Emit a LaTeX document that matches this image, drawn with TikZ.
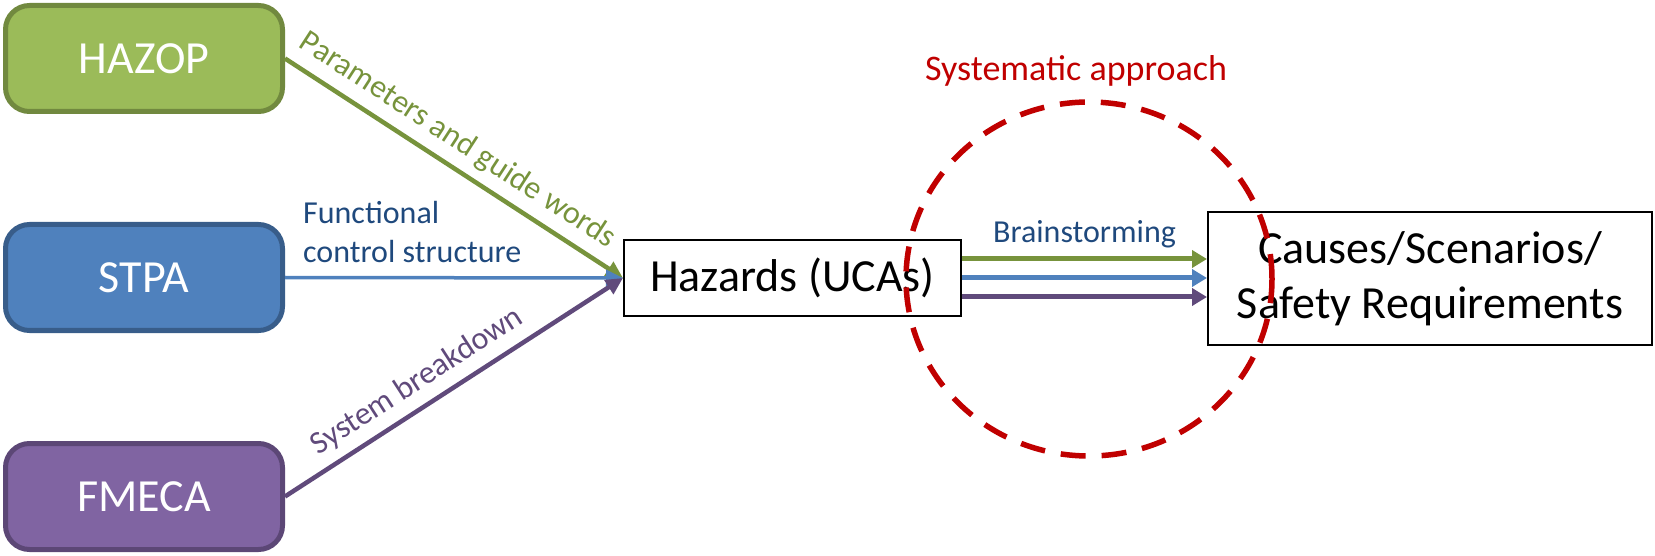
\documentclass[tikz,border=0pt]{standalone}
\usepackage{fontspec}
\setmainfont{Carlito}
\usetikzlibrary{arrows.meta,shapes.geometric,calc}

\definecolor{hazopfill}{HTML}{9BBB59}
\definecolor{hazopline}{HTML}{71893F}
\definecolor{stpafill}{HTML}{4F81BD}
\definecolor{stpaline}{HTML}{385D8A}
\definecolor{fmecafill}{HTML}{8064A2}
\definecolor{fmecaline}{HTML}{5C4776}
\definecolor{greenarrow}{HTML}{77933C}
\definecolor{bluearrow}{HTML}{4F81BD}
\definecolor{purplearrow}{HTML}{604A7B}
\definecolor{darkbluetext}{HTML}{1F497D}
\definecolor{redmark}{HTML}{C00000}

\begin{document}
\begin{tikzpicture}[x=1pt,y=1pt,
  method/.style={rounded corners=24pt, line width=5pt, minimum width=277pt,
    minimum height=106pt, inner sep=0pt, text=white,
    font=\fontsize{46}{55}\selectfont},
  plainbox/.style={draw=black, line width=2pt, fill=white, inner sep=0pt,
    align=center, font=\fontsize{46}{55}\selectfont},
  feed/.style={line width=4.5pt, -{Triangle[length=17pt,width=16pt]}},
  brain/.style={line width=5pt, -{Triangle[length=15pt,width=17pt]}},
  lbl/.style={font=\fontsize{32}{39}\selectfont},
]
\useasboundingbox (0,0) rectangle (1655,555);

% source methods
\node[method, draw=hazopline, fill=hazopfill] (hazop) at (144,496.5) {HAZOP};
\node[method, draw=stpaline, fill=stpafill] (stpa) at (144,277.5) {STPA};
\node[method, draw=fmecaline, fill=fmecafill] (fmeca) at (144,58.5) {FMECA};

% intermediate and final results
\node[plainbox, minimum width=337pt, minimum height=76pt] (haz) at (792.5,277) {Hazards (UCAs)};
\node[plainbox, minimum width=444pt, minimum height=133pt] (causes) at (1430,276.5)
  {Causes/Scenarios/\\Safety Requirements};

% inputs to hazard identification
\draw[feed, greenarrow] (hazop.east) -- (haz.west)
  node[lbl, sloped, above, pos=0.47, inner sep=9pt, text=greenarrow] {Parameters and guide words};
\draw[feed, bluearrow, line width=3.5pt] (stpa.east) -- (haz.west);
\node[lbl, text=darkbluetext, align=left, anchor=south west, inner sep=0pt]
  (fcs) at ($(stpa.east)+(18,15)$) {Functional\\control structure};
\draw[feed, purplearrow] (fmeca.east) -- (haz.west)
  node[lbl, sloped, above, pos=0.43, inner sep=9pt, text=purplearrow] {System breakdown};

% brainstorming towards causes
\coordinate (b1s) at ($(haz.east)+(0,19)$);
\coordinate (b2s) at ($(haz.east)+(0,0)$);
\coordinate (b3s) at ($(haz.east)+(0,-19)$);
\draw[brain, greenarrow] (b1s) -- (b1s -| causes.west)
  node[lbl, midway, above, inner sep=8pt, text=darkbluetext] {Brainstorming};
\draw[brain, bluearrow] (b2s) -- (b2s -| causes.west);
\draw[brain, purplearrow] (b3s) -- (b3s -| causes.west);

% systematic approach marker
\node[ellipse, draw=redmark, line width=5.5pt, dash pattern=on 25pt off 16pt,
  minimum width=366pt, minimum height=354pt, inner sep=0pt] (sys) at (1089,276) {};
\node[font=\fontsize{36}{43}\selectfont, text=redmark] (systxt) at (1076,484) {Systematic approach};
\end{tikzpicture}
\end{document}
